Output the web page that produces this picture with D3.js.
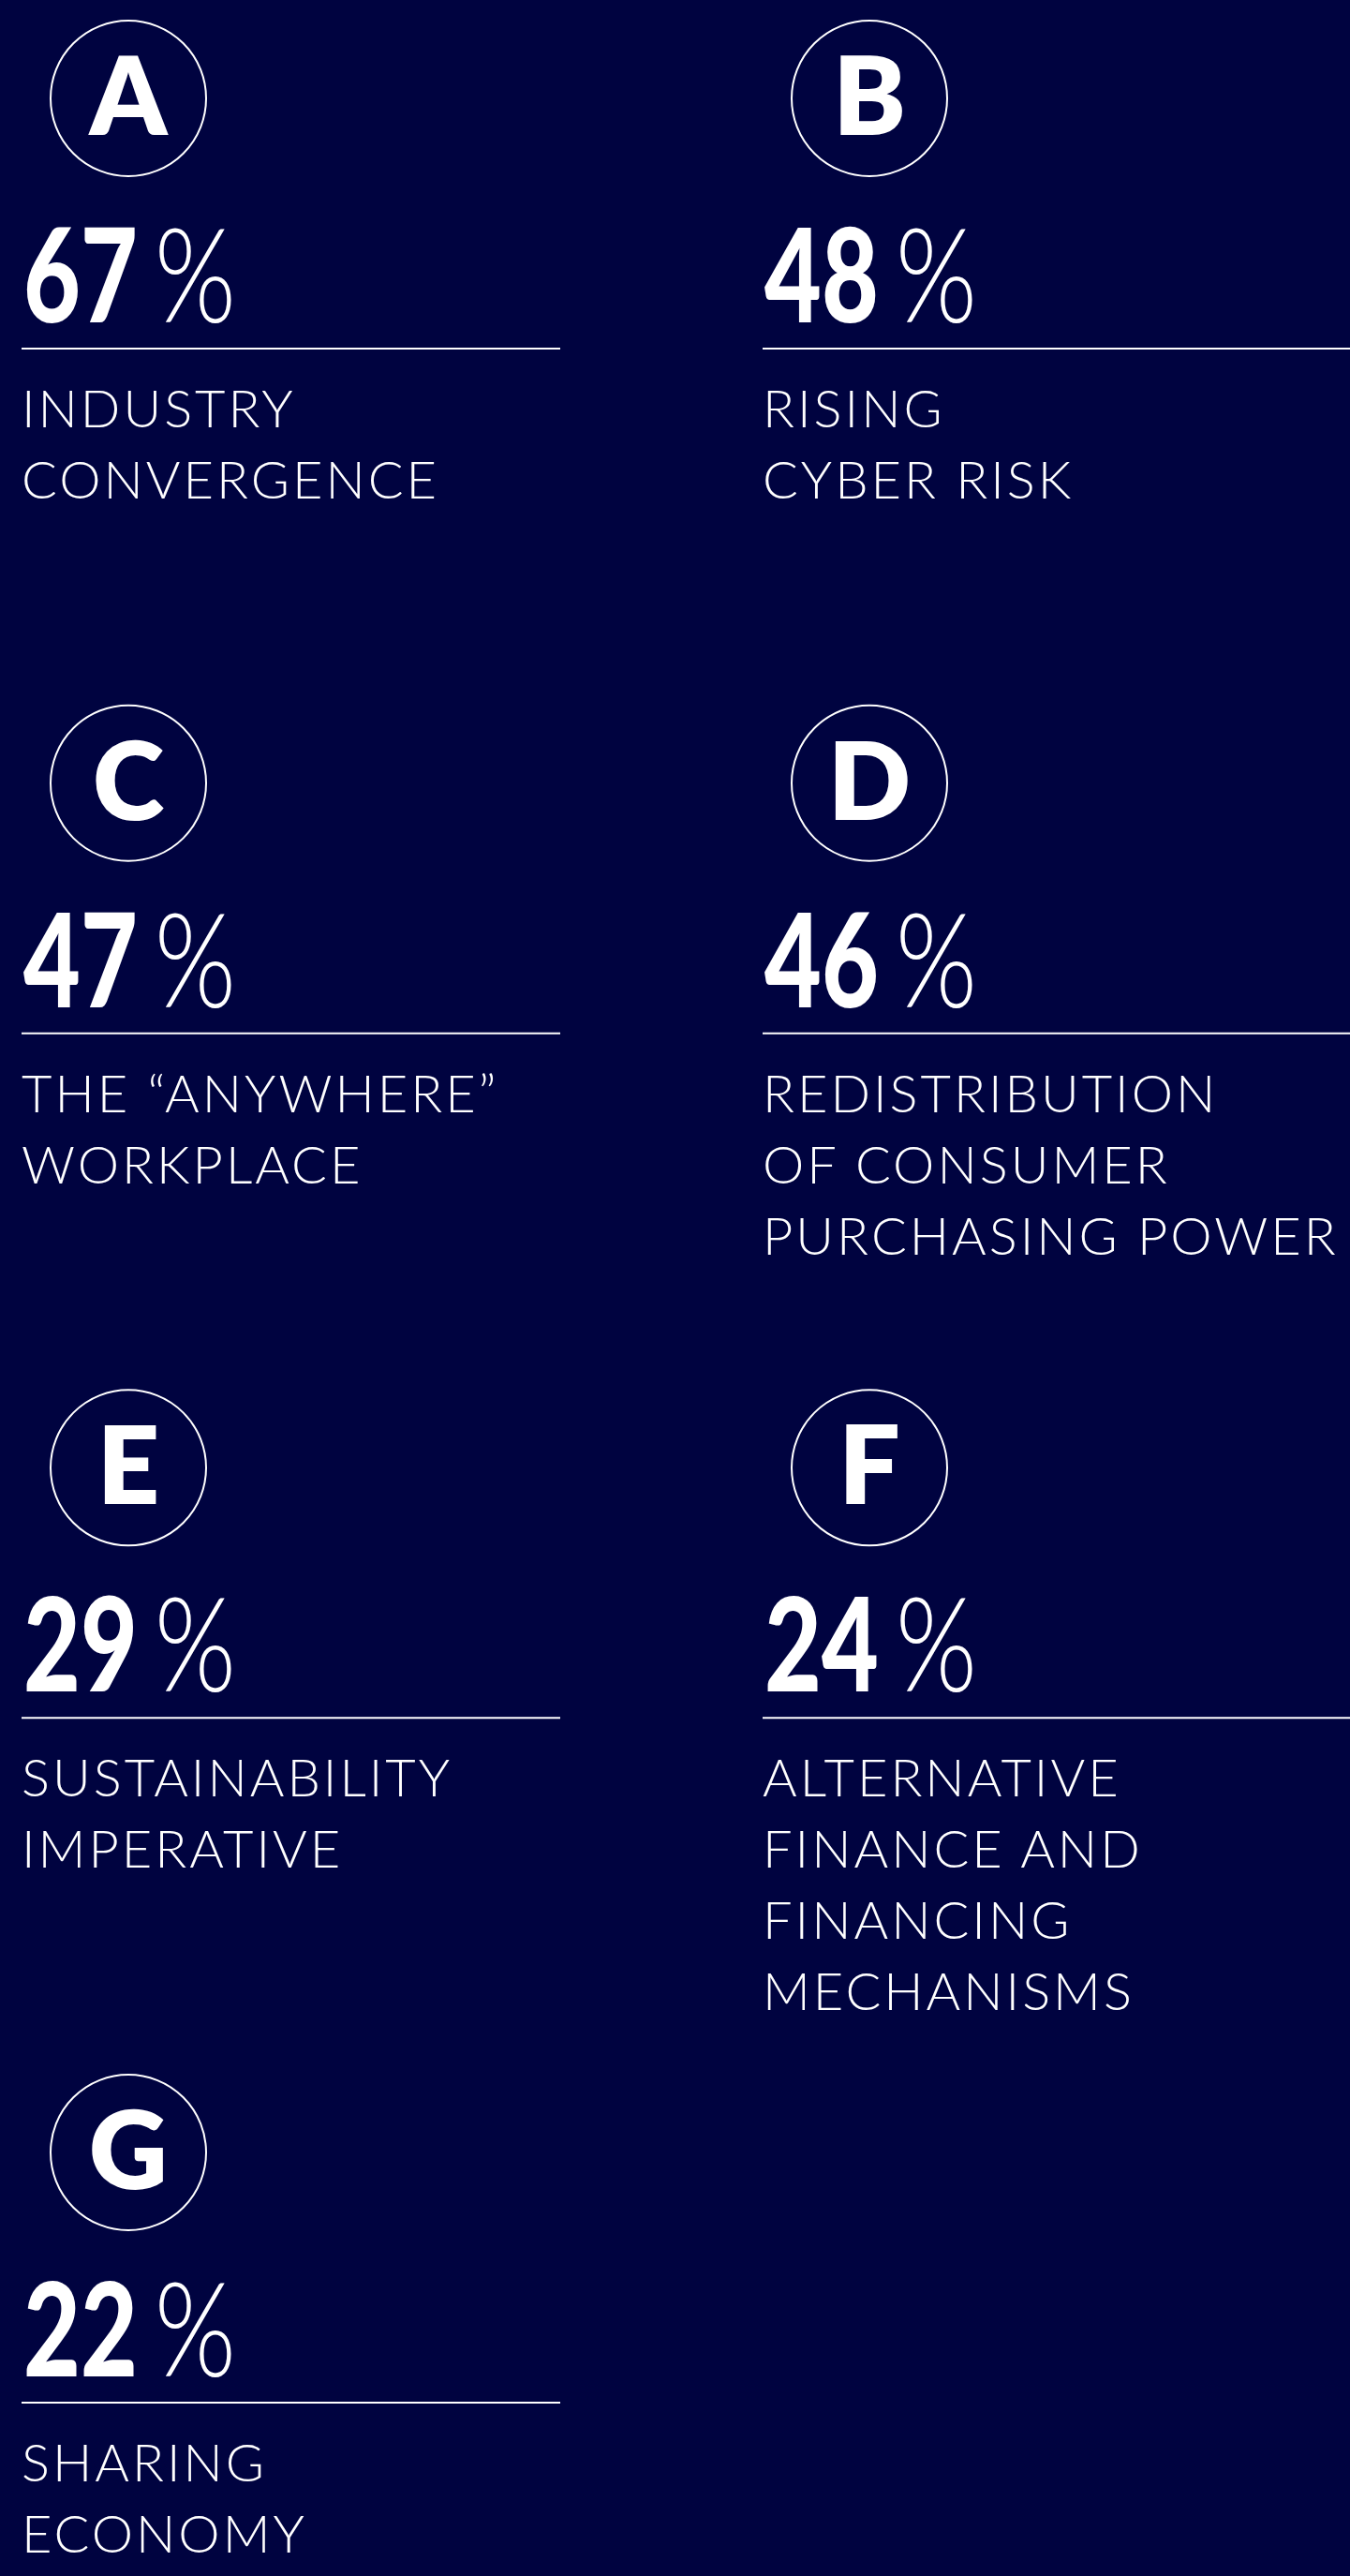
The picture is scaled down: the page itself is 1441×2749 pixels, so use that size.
<!DOCTYPE html>
<html>
<head>
<meta charset="utf-8">
<script src="https://cdn.jsdelivr.net/npm/d3@7"></script>
<style>
  body { margin: 0; background: #000340; }
  svg { display: block; }
  .num { font-family: Lato, "Noto Sans", sans-serif; font-weight: 900; fill: #fff; }
  .pct { font-family: Lato, "Noto Sans", sans-serif; font-weight: 300; fill: #fff; }
  .label { font-family: Lato, "Noto Sans", sans-serif; font-weight: 300; fill: #fff; }
  .letter { font-family: Lato, "Noto Sans", sans-serif; font-weight: 800; fill: #fff; }
</style>
</head>
<body>
<div id="chart"></div>
<script>
// trend letters, shares and names
const letters = ["A", "B", "C", "D", "E", "F", "G"];
const values = [67, 48, 47, 46, 29, 24, 22];
const labels = [
  ["INDUSTRY", "CONVERGENCE"],
  ["RISING", "CYBER RISK"],
  ["THE \u201CANYWHERE\u201D", "WORKPLACE"],
  ["REDISTRIBUTION", "OF CONSUMER", "PURCHASING POWER"],
  ["SUSTAINABILITY", "IMPERATIVE"],
  ["ALTERNATIVE", "FINANCE AND", "FINANCING", "MECHANISMS"],
  ["SHARING", "ECONOMY"],
];

const width = 1441;
const height = 2749;

const data = letters.map((l, i) => ({
  letter: l,
  value: values[i],
  label: labels[i],
  col: i % 2,
  row: Math.floor(i / 2),
}));

const svg = d3
  .select("#chart")
  .append("svg")
  .attr("width", width)
  .attr("height", height);

svg
  .append("rect")
  .attr("width", width)
  .attr("height", height)
  .attr("fill", "#000340");

const xCol = d3.scalePoint().domain([0, 1]).range([23, 814]);
const yRow = d3.scalePoint().domain([0, 1, 2, 3]).range([0, 2192]);
const ruleLength = [575, 640];
const numScale = 0.75;

const cards = svg
  .selectAll(".card")
  .data(data)
  .enter()
  .append("g")
  .attr("class", "card")
  .attr("transform", (d) => `translate(${xCol(d.col)},${yRow(d.row)})`);

cards
  .append("circle")
  .attr("cx", 114)
  .attr("cy", 105)
  .attr("r", 83)
  .attr("fill", "none")
  .attr("stroke", "#fff")
  .attr("stroke-width", 2);

cards
  .append("text")
  .attr("class", "letter")
  .attr("x", 114)
  .attr("y", 144)
  .attr("text-anchor", "middle")
  .attr("font-size", 116)
  .text((d) => d.letter);

// bold digits, squeezed a bit to match the narrow geometric face
cards
  .append("text")
  .attr("class", "num")
  .attr("transform", `translate(2,344) scale(${numScale},1)`)
  .attr("font-size", 140)
  .text((d) => d.value)
  .each(function (d) {
    d.numW = this.getComputedTextLength() * numScale;
  });

cards
  .append("text")
  .attr("class", "pct")
  .attr("transform", (d) => `translate(${d.numW + 20},344) scale(0.8,1)`)
  .attr("font-size", 140)
  .text("%");

cards
  .append("line")
  .attr("x1", 0)
  .attr("x2", (d) => ruleLength[d.col])
  .attr("y1", 372)
  .attr("y2", 372)
  .attr("stroke", "#fff")
  .attr("stroke-width", 2);

cards
  .append("text")
  .attr("class", "label")
  .attr("font-size", 56)
  .attr("letter-spacing", 3)
  .selectAll("tspan")
  .data((d) => d.label)
  .enter()
  .append("tspan")
  .attr("x", 0)
  .attr("y", (d, i) => 456 + i * 76)
  .text((d) => d);
</script>
</body>
</html>
